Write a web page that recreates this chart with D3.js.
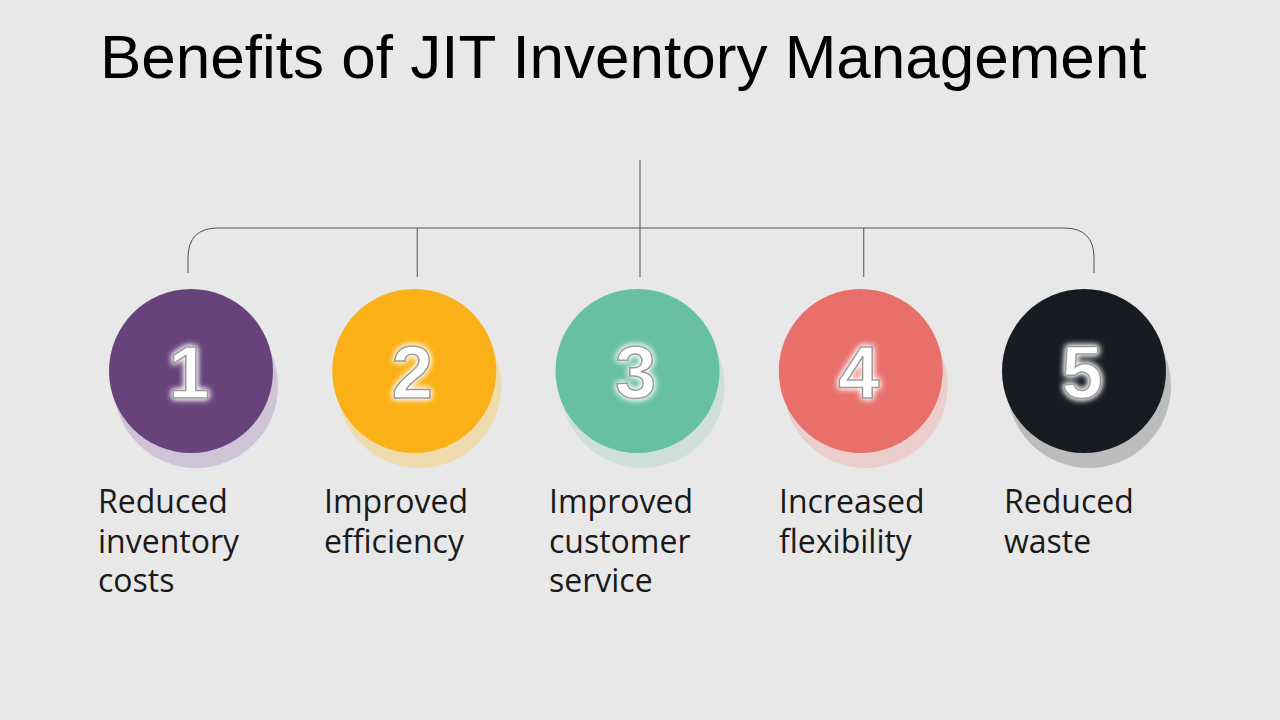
<!DOCTYPE html>
<html><head><meta charset="utf-8">
<script src="https://cdn.jsdelivr.net/npm/d3@7"></script>
<style>body{margin:0;background:#e8e8e8}</style>
</head><body>
<svg id="c" width="1280" height="720"></svg>
<script>
const title = "Benefits of JIT Inventory Management";
const numbers = ["1","2","3","4","5"];
const labels = [["Reduced","inventory","costs"],["Improved","efficiency"],["Improved","customer","service"],["Increased","flexibility"],["Reduced","waste"]];
const colors = ["#67437b","#fab117","#68c0a2","#e9706a","#161c22"];
const shadows = ["#cfc4d6","#efdcae","#cfe0d8","#ebcfcc","#bcbcbc"];

const svg = d3.select("#c");
svg.append("rect").attr("width",1280).attr("height",720).attr("fill","#e8e8e8");
svg.append("text").attr("x",100).attr("y",78).attr("font-family","Liberation Sans, Arial").attr("font-size",62).attr("fill","#000").text(title);

const x = d3.scalePoint().domain(numbers).range([191,1084]);
const cy = 371, r = 82;

const defs = svg.append("defs");
const f = defs.append("filter").attr("id","glow").attr("x","-50%").attr("y","-50%").attr("width","200%").attr("height","200%");
f.append("feGaussianBlur").attr("in","SourceAlpha").attr("stdDeviation",3).attr("result","b");
f.append("feFlood").attr("flood-color","#ffffff").attr("result","w");
f.append("feComposite").attr("in","w").attr("in2","b").attr("operator","in").attr("result","g");
const m = f.append("feMerge"); m.append("feMergeNode").attr("in","g"); m.append("feMergeNode").attr("in","g"); m.append("feMergeNode").attr("in","SourceGraphic");

const lc = "#4a5560";
const x0 = x("1"), x4 = x("5"), yh = 228, rr = 30;
svg.append("path").attr("fill","none").attr("stroke",lc).attr("stroke-width",1)
  .attr("d",`M${x0-3},273 L${x0-3},${yh+rr} Q${x0-3},${yh} ${x0-3+rr},${yh} L${x4+10-rr},${yh} Q${x4+10},${yh} ${x4+10},${yh+rr} L${x4+10},273`);
svg.append("line").attr("x1",640).attr("x2",640).attr("y1",160).attr("y2",277).attr("stroke",lc);
[x("2")+3,x("4")+3].forEach(px=>svg.append("line").attr("x1",px).attr("x2",px).attr("y1",yh).attr("y2",277).attr("stroke",lc));

const g = svg.selectAll("g.item").data(numbers).join("g");
g.append("circle").attr("cx",d=>x(d)+5).attr("cy",cy+15).attr("r",r).attr("fill",(d,i)=>shadows[i]);
g.append("circle").attr("cx",d=>x(d)).attr("cy",cy).attr("r",r).attr("fill",(d,i)=>colors[i]);
g.append("text").attr("x",d=>x(d)-2).attr("y",cy+27).attr("text-anchor","middle")
  .attr("font-family","Liberation Sans, Arial").attr("font-weight","bold").attr("font-size",74)
  .attr("fill","#fff").attr("stroke","#9a9a9a").attr("stroke-width",1.5).attr("filter","url(#glow)").text(d=>d);
const lx = [98,324,549,779,1004];
g.each(function(d,i){
  const t = d3.select(this).append("text").attr("font-family","Open Sans, Noto Sans, sans-serif").attr("font-size",32).attr("fill","#1a1a1a");
  labels[i].forEach((s,j)=>t.append("tspan").attr("x",lx[i]).attr("y",513+j*39.5).text(s));
});
</script>
</body></html>
